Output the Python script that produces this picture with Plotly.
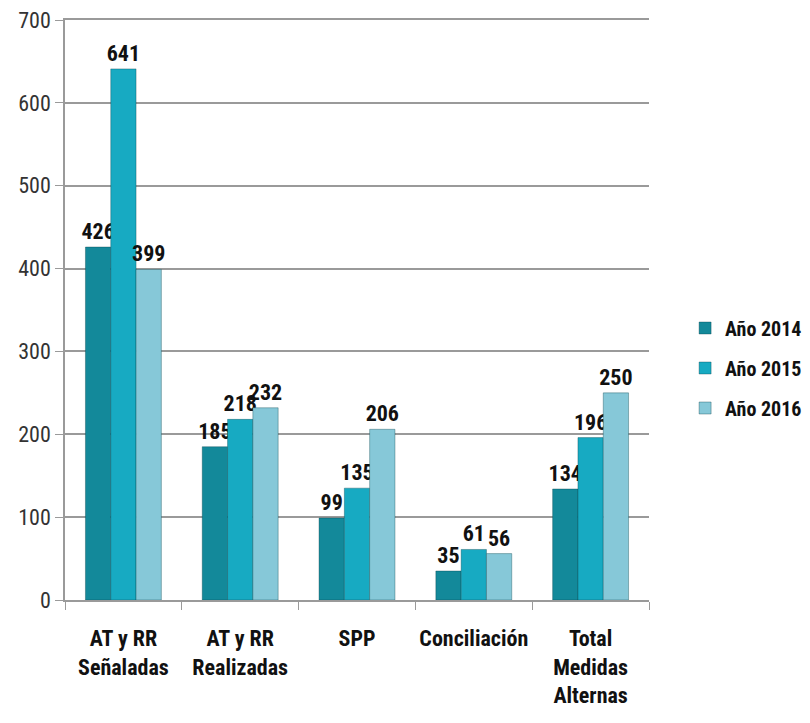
import plotly.graph_objects as go

categories = ["AT y RR<br>Señaladas", "AT y RR<br>Realizadas", "SPP", "Conciliación", "Total<br>Medidas<br>Alternas"]
series_names = ["Año 2014", "Año 2015", "Año 2016"]
values_2014 = [426, 185, 99, 35, 134]
values_2015 = [641, 218, 135, 61, 196]
values_2016 = [399, 232, 206, 56, 250]
y_ticks = [0, 100, 200, 300, 400, 500, 600, 700]

colors = ["#13899a", "#17aac2", "#86c8d8"]
FONT = "Liberation Sans Narrow, Arial Narrow, Roboto Condensed, Liberation Sans, sans-serif"

fig = go.Figure()
for name, vals, col in zip(series_names, [values_2014, values_2015, values_2016], colors):
    fig.add_trace(go.Bar(
        x=categories, y=vals, name=name, legendgroup=name,
        marker=dict(color=col, line=dict(color="rgba(0,60,70,0.35)", width=1)),
        text=[str(v) for v in vals], textposition="outside", constraintext="none",
        textfont=dict(family=FONT, size=22, color="#111111", weight="bold"),
        cliponaxis=False,
    ))

fig.update_layout(
    width=810, height=723,
    paper_bgcolor="white", plot_bgcolor="white",
    margin=dict(l=57, r=168, t=12, b=131),
    barmode="group", bargap=0.35, bargroupgap=0,
    font=dict(family=FONT, color="#222222"),
    legend=dict(x=1.06, y=0.40, xanchor="left", yanchor="middle",
                font=dict(family=FONT, size=20, color="#111111", weight="bold"),
                itemwidth=30, tracegroupgap=11, bgcolor="rgba(0,0,0,0)", borderwidth=0),
    showlegend=True,
)
fig.update_yaxes(range=[0, 700], tickvals=y_ticks, showgrid=True, gridcolor="#9a9a9a", gridwidth=1.5,
                 showline=True, linecolor="#9a9a9a", linewidth=1.5, ticks="outside", ticklen=8,
                 tickcolor="#9a9a9a", tickfont=dict(family=FONT, size=22, color="#333333"),
                 zeroline=False, automargin=False, ticklabeloverflow="allow")
fig.update_xaxes(showline=True, mirror=True, linecolor="#9a9a9a", linewidth=1.5, ticks="outside", ticklen=8,
                 tickcolor="#9a9a9a", tickson="boundaries", automargin=False, ticklabelstandoff=18,
                 tickangle=0, ticklabeloverflow="allow",
                 tickfont=dict(family=FONT, size=22, color="#111111", weight="bold"))

fig.write_html("out.html")
